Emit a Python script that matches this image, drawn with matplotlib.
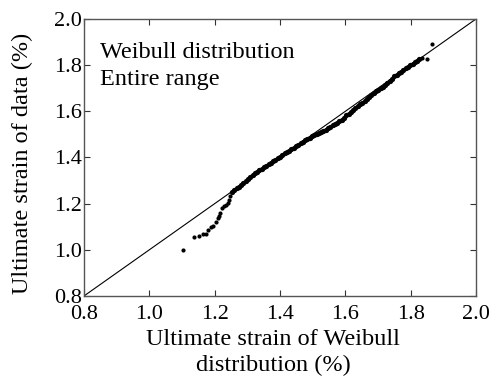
import matplotlib
matplotlib.use("Agg")
import matplotlib.pyplot as plt

plt.rcParams['font.family'] = ['Liberation Serif', 'DejaVu Serif']

# Weibull theoretical quantiles (x) vs data quantiles (y), in %
weibull_q = [1.102, 1.136, 1.153, 1.165, 1.173, 1.180, 1.188, 1.194, 1.203, 1.209,
             1.213, 1.216, 1.222, 1.229, 1.235, 1.241, 1.244, 1.248,
             1.253, 1.260, 1.267, 1.274, 1.281, 1.288, 1.295, 1.302, 1.309, 1.316,
             1.323, 1.330, 1.337, 1.344, 1.351, 1.358, 1.365, 1.372, 1.379, 1.386,
             1.393, 1.400, 1.407, 1.414, 1.421, 1.428, 1.435, 1.442, 1.449, 1.456,
             1.463, 1.470, 1.477, 1.484, 1.491, 1.498, 1.505, 1.512, 1.519, 1.526,
             1.533, 1.540, 1.547, 1.554, 1.561, 1.568, 1.575, 1.582, 1.589, 1.596,
             1.603, 1.610, 1.617, 1.624, 1.631, 1.638, 1.645, 1.652, 1.659, 1.666,
             1.673, 1.680, 1.687, 1.694, 1.701, 1.708, 1.715, 1.722, 1.729, 1.736,
             1.743, 1.750, 1.757, 1.764, 1.771, 1.778, 1.785, 1.792, 1.799, 1.806,
             1.813, 1.820, 1.827, 1.835, 1.849, 1.864]
data_q = [0.999, 1.056, 1.060, 1.067, 1.070, 1.086, 1.099, 1.103, 1.119, 1.137,
          1.147, 1.161, 1.180, 1.190, 1.196, 1.204, 1.216, 1.233,
          1.250, 1.258, 1.266, 1.274, 1.282, 1.291, 1.299, 1.307, 1.316, 1.324,
          1.332, 1.338, 1.344, 1.350, 1.357, 1.363, 1.370, 1.377, 1.384, 1.390,
          1.397, 1.404, 1.411, 1.419, 1.424, 1.430, 1.436, 1.443, 1.450, 1.456,
          1.463, 1.469, 1.476, 1.481, 1.486, 1.491, 1.496, 1.501, 1.506, 1.511,
          1.516, 1.521, 1.527, 1.533, 1.539, 1.545, 1.551, 1.557, 1.563, 1.572,
          1.582, 1.590, 1.598, 1.606, 1.614, 1.622, 1.630, 1.638, 1.645, 1.653,
          1.662, 1.671, 1.679, 1.686, 1.693, 1.700, 1.707, 1.714, 1.722, 1.731,
          1.741, 1.752, 1.758, 1.765, 1.772, 1.779, 1.786, 1.792, 1.799, 1.806,
          1.812, 1.818, 1.827, 1.830, 1.826, 1.891]

ref_line = [0.8, 2.0]
ticks = [0.8, 1.0, 1.2, 1.4, 1.6, 1.8, 2.0]
tick_labels = ['0.8', '1.0', '1.2', '1.4', '1.6', '1.8', '2.0']

fig = plt.figure(figsize=(4.94, 3.83), dpi=100)
ax = fig.add_axes([0.170, 0.2272, 0.7935, 0.7232])

ax.plot(ref_line, ref_line, color='black', lw=0.8, zorder=2)
ax.plot(weibull_q[:18], data_q[:18], linestyle='none', marker='o', markersize=3.0,
        markerfacecolor='black', markeredgecolor='black', markeredgewidth=0, zorder=3)
ax.plot(weibull_q[18:-3], data_q[18:-3], linestyle='none', marker='o', markersize=3.8,
        markerfacecolor='black', markeredgecolor='black', markeredgewidth=0, zorder=3)
ax.plot(weibull_q[-3:], data_q[-3:], linestyle='none', marker='o', markersize=3.0,
        markerfacecolor='black', markeredgecolor='black', markeredgewidth=0, zorder=3)

ax.set_xlim(0.8, 2.0)
ax.set_ylim(0.8, 2.0)
ax.set_xticks(ticks)
ax.set_xticklabels(tick_labels)
ax.set_yticks(ticks)
ax.set_yticklabels(tick_labels)
ax.tick_params(direction='in', length=4, width=0.8, top=True, right=True,
               labelsize=16, color='#333333')
ax.tick_params(axis='x', pad=6.5)
ax.tick_params(axis='y', pad=1.5)
for s in ax.spines.values():
    s.set_linewidth(1.0)
    s.set_color('#555555')

ax.set_xlabel('Ultimate strain of Weibull\ndistribution (%)', fontsize=17.5,
              linespacing=1.3)
ax.xaxis.set_label_coords(0.482, -0.118)
ax.set_ylabel('Ultimate strain of data (%)', fontsize=17.5)
ax.yaxis.set_label_coords(-0.130, 0.478)

ax.text(0.849, 1.853, 'Weibull distribution', fontsize=17.5, va='center', ha='left')
ax.text(0.849, 1.736, 'Entire range', fontsize=17.5, va='center', ha='left')

fig.savefig('out.png', dpi=100)
